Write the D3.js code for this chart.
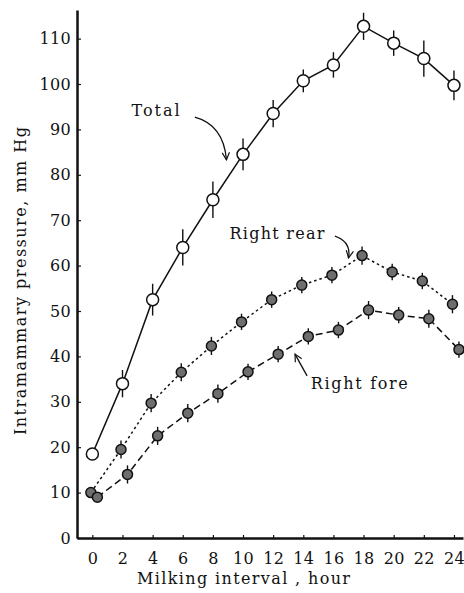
<!DOCTYPE html>
<html>
<head>
<meta charset="utf-8">
<script src="https://cdn.jsdelivr.net/npm/d3@7"></script>
<style>
  body { margin: 0; background: #fff; }
  text { font-family: "DejaVu Serif", "Liberation Serif", serif; fill: #111; }
</style>
</head>
<body>
<svg id="mainsvg" width="464" height="593"></svg>
<script>
// chart data
const hours = [0, 2, 4, 6, 8, 10, 12, 14, 16, 18, 20, 22, 24];
const totalVals = [18.5, 34, 52.5, 64, 74.5, 84.5, 93.5, 100.7, 104.2, 112.7, 109, 105.6, 99.7];
const totalErr  = [0, 3, 3.5, 4, 4, 3.5, 3, 2.5, 2.8, 3, 2.8, 4, 3.3];
const rearVals  = [10, 19.5, 29.7, 36.5, 42.3, 47.6, 52.5, 55.7, 57.9, 62.2, 58.6, 56.6, 51.5];
const rearErr   = [0, 2, 2, 2, 2, 1.8, 1.8, 1.8, 1.8, 2, 1.8, 1.8, 2];
const foreVals  = [9, 14, 22.5, 27.5, 31.8, 36.6, 40.5, 44.4, 45.8, 50.2, 49.1, 48.3, 41.5];
const foreErr   = [0, 2, 2, 2, 2, 1.8, 1.8, 1.8, 1.8, 2, 1.8, 2, 1.8];
const xTicks = [0, 2, 4, 6, 8, 10, 12, 14, 16, 18, 20, 22, 24];
const yTicks = [0, 10, 20, 30, 40, 50, 60, 70, 80, 90, 100, 110];

const xAxisLabel = 'Milking interval , hour';
const yAxisLabel = 'Intramammary pressure,  mm Hg';

const svg = d3.select('#mainsvg');

const xScale = d3.scaleLinear().domain([-1.02, 24.6]).range([77, 463]);
const yScale = d3.scaleLinear().domain([0, 116.3]).range([538, 10]);

// series styles (nudge = small horizontal shift used in the original print)
const series = [
  {id: 'total', values: totalVals, err: totalErr, dash: null, fill: '#fff', r: 6, nudge: 0},
  {id: 'rear', values: rearVals, err: rearErr, dash: '2.5,3', fill: '#6e6e6e', r: 5, nudge: -1.5},
  {id: 'fore', values: foreVals, err: foreErr, dash: '7,4', fill: '#6e6e6e', r: 5, nudge: 5}
];

// axes
const xAxis = d3.axisBottom(xScale).tickValues(xTicks).tickSizeInner(-3).tickSizeOuter(0).tickPadding(15);
const yAxis = d3.axisLeft(yScale).tickValues(yTicks).tickSizeInner(-4).tickSizeOuter(0).tickPadding(6);

const gx = svg.append('g').attr('transform', `translate(0, ${yScale(0)})`).call(xAxis);
const gy = svg.append('g').attr('transform', `translate(${xScale.range()[0]}, 0)`).call(yAxis);

[gx, gy].forEach(g => {
  g.select('.domain').attr('stroke', '#111').attr('stroke-width', 2.5);
  g.selectAll('.tick line').attr('stroke', '#111').attr('stroke-width', 1.2);
  g.selectAll('.tick text')
    .attr('font-size', 16)
    .attr('font-family', '"DejaVu Serif", "Liberation Serif", serif')
    .attr('letter-spacing', 0.3)
    .attr('fill', '#111');
});

// axis titles (widths matched to the printed figure)
svg.append('text')
  .attr('x', 137).attr('y', 584)
  .attr('font-size', 16)
  .attr('textLength', 213).attr('lengthAdjust', 'spacing')
  .text(xAxisLabel);

svg.append('text')
  .attr('transform', 'translate(26, 435) rotate(-90)')
  .attr('font-size', 16)
  .attr('textLength', 308).attr('lengthAdjust', 'spacing')
  .text(yAxisLabel);

// lines, error bars, markers
const line = d3.line().x(d => d.x).y(d => d.y);

series.forEach(s => {
  const pts = hours.map((h, i) => ({
    x: xScale(h) + s.nudge, y: yScale(s.values[i]),
    lo: yScale(s.values[i] - s.err[i]), hi: yScale(s.values[i] + s.err[i])
  }));
  const g = svg.append('g').attr('class', 'series-' + s.id);

  g.append('path')
    .attr('d', line(pts))
    .attr('fill', 'none')
    .attr('stroke', '#111')
    .attr('stroke-width', 1.5)
    .attr('stroke-dasharray', s.dash);

  g.selectAll('.err').data(pts.filter(p => p.lo - p.hi > 0)).join('line')
    .attr('class', 'err')
    .attr('x1', d => d.x).attr('x2', d => d.x)
    .attr('y1', d => d.hi).attr('y2', d => d.lo)
    .attr('stroke', '#111')
    .attr('stroke-width', 1.4);

  g.selectAll('circle').data(pts).join('circle')
    .attr('cx', d => d.x).attr('cy', d => d.y)
    .attr('r', s.r)
    .attr('fill', s.fill)
    .attr('stroke', '#111')
    .attr('stroke-width', 1.5);
});

// labels with arrows (positions in data units, width in px)
const notes = [
  {text: 'Total', at: [2.6, 93], w: 48, from: [6.8, 92.7], ctrl: [8.7, 91], to: [8.9, 83.3]},
  {text: 'Right rear', at: [9.1, 65.9], w: 95, from: [16.1, 66.5], ctrl: [17.2, 65.2], to: [17.0, 61.7]},
  {text: 'Right fore', at: [14.5, 32.8], w: 97, from: [14.25, 35.7], ctrl: null, to: [13.45, 40.5]}
];

svg.append('defs').append('marker')
  .attr('id', 'head')
  .attr('viewBox', '0 0 10 10')
  .attr('refX', 9).attr('refY', 5)
  .attr('markerWidth', 7).attr('markerHeight', 7)
  .attr('orient', 'auto')
  .append('path')
  .attr('d', 'M1,1 L9,5 L1,9')
  .attr('fill', 'none')
  .attr('stroke', '#111')
  .attr('stroke-width', 1.3);

notes.forEach(n => {
  svg.append('text')
    .attr('x', xScale(n.at[0])).attr('y', yScale(n.at[1]))
    .attr('font-size', 16)
    .attr('textLength', n.w).attr('lengthAdjust', 'spacing')
    .text(n.text);

  const p = d3.path();
  p.moveTo(xScale(n.from[0]), yScale(n.from[1]));
  if (n.ctrl) {
    p.quadraticCurveTo(xScale(n.ctrl[0]), yScale(n.ctrl[1]), xScale(n.to[0]), yScale(n.to[1]));
  } else {
    p.lineTo(xScale(n.to[0]), yScale(n.to[1]));
  }
  svg.append('path')
    .attr('d', p.toString())
    .attr('fill', 'none')
    .attr('stroke', '#111')
    .attr('stroke-width', 1.3)
    .attr('marker-end', 'url(#head)');
});
</script>
</body>
</html>
